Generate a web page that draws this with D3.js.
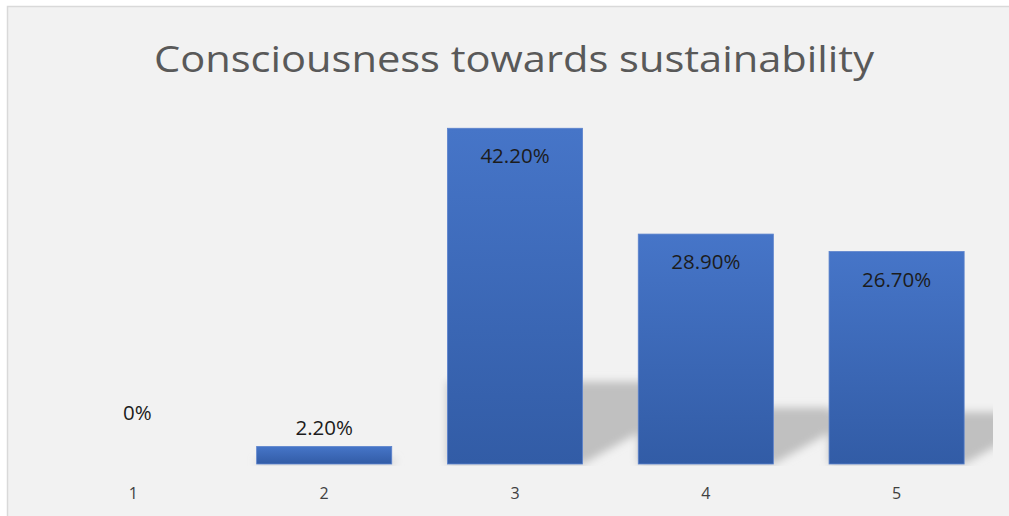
<!DOCTYPE html>
<html>
<head>
<meta charset="utf-8">
<script src="https://cdn.jsdelivr.net/npm/d3@7"></script>
<style>
  html, body { margin: 0; padding: 0; background: #ffffff; }
  svg { display: block; }
</style>
</head>
<body>
<svg id="chart" width="1009" height="516"></svg>
<script>
// Survey result: share of respondents per consciousness level (1-5)
const categories = ["1", "2", "3", "4", "5"];
const shares = [0, 2.2, 42.2, 28.9, 26.7];
const valueLabels = ["0%", "2.20%", "42.20%", "28.90%", "26.70%"];
const chartTitle = "Consciousness towards sustainability";

const W = 1009, H = 516;
const svg = d3.select("#chart");
const font = "'Open Sans', 'Noto Sans', sans-serif";

// chart area background and frame
svg.append("rect")
  .attr("x", 7.5).attr("y", 6.5).attr("width", W).attr("height", H)
  .attr("fill", "#f2f2f2").attr("stroke", "#d9d9d9").attr("stroke-width", 1.5);

const defs = svg.append("defs");
const grad = defs.append("linearGradient")
  .attr("id", "barFill").attr("x1", 0).attr("y1", 0).attr("x2", 0).attr("y2", 1);
grad.append("stop").attr("offset", "0%").attr("stop-color", "#4675c8");
grad.append("stop").attr("offset", "100%").attr("stop-color", "#325ca6");

defs.append("filter").attr("id", "soft")
  .attr("x", "-30%").attr("y", "-30%").attr("width", "160%").attr("height", "160%")
  .append("feGaussianBlur").attr("stdDeviation", 4);

const base = 464;
const x = d3.scaleBand().domain(categories).range([38, 992])
  .paddingInner(0.292).paddingOuter(0.146);
const y = d3.scaleLinear().domain([0, 45]).range([base, 106]);

// shadows stay inside the plot area
defs.append("clipPath").attr("id", "plotClip")
  .append("rect").attr("x", 20).attr("y", 90).attr("width", 973).attr("height", base - 90 + 2);

const data = categories.map((c, i) => ({ c, v: shares[i], label: valueLabels[i] }));

// perspective floor shadow cast to the upper right of each bar
svg.append("g").attr("clip-path", "url(#plotClip)")
  .append("g").attr("filter", "url(#soft)")
  .selectAll("path").data(data.filter(d => d.v > 0)).join("path")
  .attr("fill", "#c0c0c0")
  .attr("d", d => {
    const x0 = x(d.c), x1 = x0 + x.bandwidth();
    const h = base - y(d.v);
    const top = base - 0.245 * h, dx = 0.25 * h, low = base - 0.56 * dx;
    return `M${x0},${base}L${x0},${top}L${x1 + dx},${top}L${x1 + dx},${low}L${x1},${base}Z`;
  });

// bars
svg.append("g").selectAll("rect").data(data.filter(d => d.v > 0)).join("rect")
  .attr("x", d => x(d.c))
  .attr("y", d => y(d.v))
  .attr("width", x.bandwidth())
  .attr("height", d => base - y(d.v))
  .attr("fill", "url(#barFill)")
  .attr("stroke", "#5b82cc").attr("stroke-width", 0.8);

// value labels: inside the bar top when it is tall, above it otherwise
svg.append("g").selectAll("text").data(data).join("text")
  .attr("x", d => x(d.c) + x.bandwidth() / 2 + (d.v === 0 ? 4 : 0))
  .attr("y", d => {
    if (d.v === 0) return base - 44;
    const top = y(d.v);
    return (base - top) > 60 ? top + 35 : top - 11;
  })
  .attr("text-anchor", "middle")
  .attr("font-family", font).attr("font-size", 20.5)
  .attr("fill", "#1c1c1c")
  .text(d => d.label);

// category axis (labels only)
const axis = svg.append("g").attr("transform", `translate(0,${base})`)
  .call(d3.axisBottom(x).tickSize(0).tickPadding(0));
axis.select(".domain").remove();
axis.selectAll("text")
  .attr("dy", 35)
  .attr("font-family", font).attr("font-size", 16)
  .attr("fill", "#404040");

// title
svg.append("text")
  .attr("x", 514).attr("y", 72)
  .attr("text-anchor", "middle")
  .attr("font-family", font).attr("font-size", 36)
  .attr("textLength", 720).attr("lengthAdjust", "spacingAndGlyphs")
  .attr("fill", "#595959")
  .text(chartTitle);
</script>
</body>
</html>
